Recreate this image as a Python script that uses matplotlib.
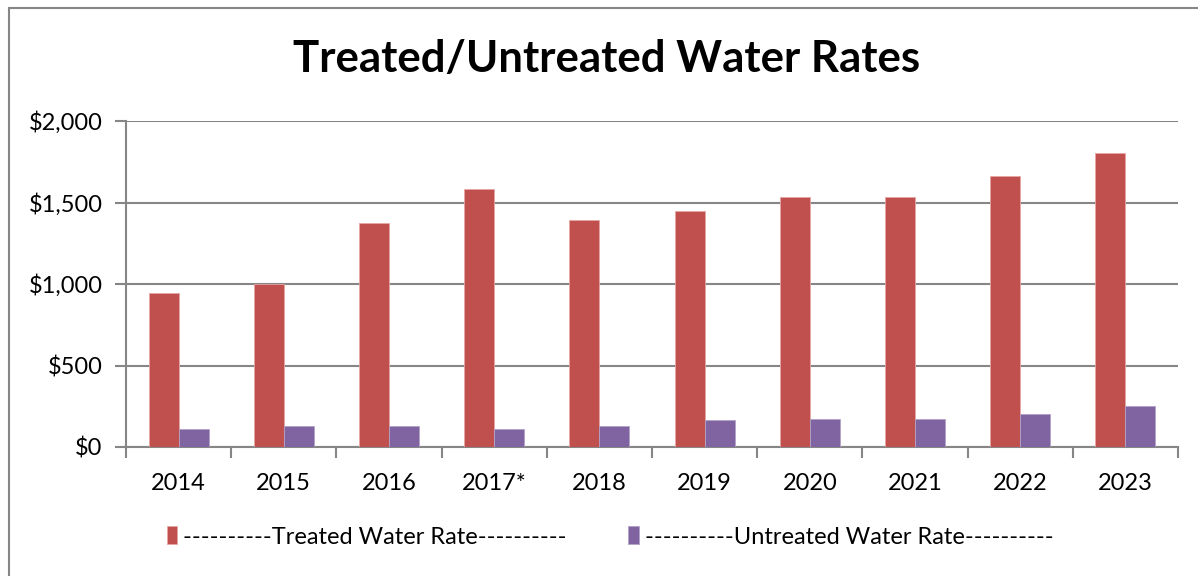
import numpy as np
import matplotlib
matplotlib.use("Agg")
import matplotlib.pyplot as plt
from matplotlib.patches import Rectangle
from matplotlib.ticker import FuncFormatter

years = ['2014', '2015', '2016', '2017*', '2018', '2019', '2020', '2021', '2022', '2023']
treated = [947, 1000, 1375, 1580, 1390, 1450, 1535, 1532, 1664, 1802]
untreated = [108, 129, 128, 113, 127, 165, 172, 172, 202, 251]

red = '#C0504D'
purple = '#8064A2'
gray = '#868686'

plt.rcParams['font.family'] = ['Lato', 'DejaVu Sans']

fig = plt.figure(figsize=(11.98, 5.76), dpi=100)
ax = fig.add_axes([126/1198, 1 - 447/576, 1052/1198, 326/576])

# outer chart border
fig.patches.append(Rectangle((9/1198, -0.1), 1.2, 1 - 8/576 + 0.1, transform=fig.transFigure,
                             fill=False, edgecolor=gray, linewidth=1.5))

x = np.arange(len(years))
w = 0.285
ax.bar(x - w/2, treated, w, color=red, edgecolor='#E6A5A3', linewidth=0.6,
       label='----------Treated Water Rate----------', zorder=3)
ax.bar(x + w/2, untreated, w, color=purple, edgecolor='#B3A2C7', linewidth=0.6,
       label='----------Untreated Water Rate----------', zorder=3)

ax.set_xlim(-0.5, len(years) - 0.5)
ax.set_ylim(0, 2000)
ax.set_yticks([0, 500, 1000, 1500, 2000])
ax.yaxis.set_major_formatter(FuncFormatter(lambda v, p: '${:,.0f}'.format(v)))
ax.grid(axis='y', color=gray, linewidth=1.5, zorder=0)

ax.set_xticks(np.arange(len(years) + 1) - 0.5)
ax.set_xticklabels([])
ax.set_xticks(x, minor=True)
ax.set_xticklabels(years, minor=True)
ax.tick_params(axis='x', which='major', length=8, width=1.5, color=gray, direction='out')
ax.tick_params(axis='x', which='minor', length=0, pad=19, labelsize=17)
ax.tick_params(axis='y', length=8, width=1.5, color=gray, labelsize=17, pad=9)

for s in ['top', 'right']:
    ax.spines[s].set_visible(False)
ax.spines['left'].set_color(gray)
ax.spines['left'].set_linewidth(1.5)
ax.spines['bottom'].set_color(gray)
ax.spines['bottom'].set_linewidth(1.5)

fig.text(607/1198, 1 - 59/576, 'Treated/Untreated Water Rates', ha='center', va='center',
         fontsize=31.5, fontweight='bold')

fig.legend(loc='center', bbox_to_anchor=(610/1198, 1 - 537/576), ncol=2, frameon=False,
           fontsize=17, handlelength=0.45, handleheight=0.8, handletextpad=0.25,
           columnspacing=2.6)

fig.savefig('out.png', dpi=100)
